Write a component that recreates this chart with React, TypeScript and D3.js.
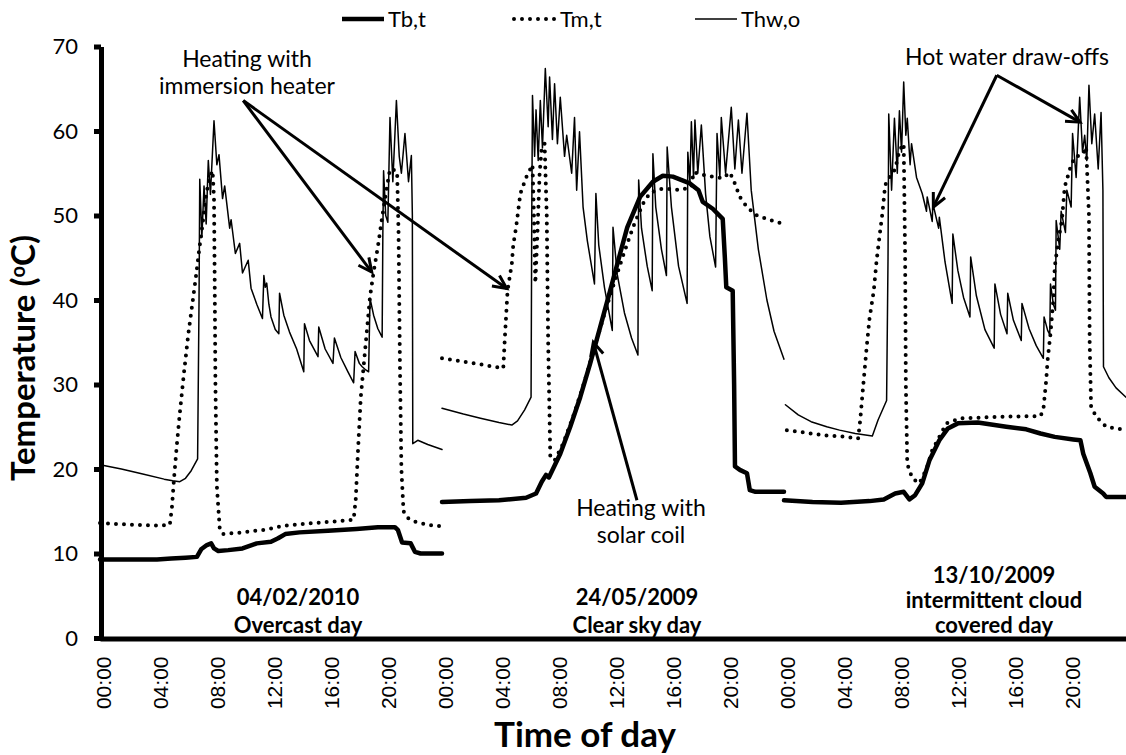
import React, { useEffect, useRef } from "react";
import * as d3 from "d3";

type Pt = [number, number];

// [hour, °C]; the three days sit side by side on a 0-72 h axis
const tbDay1: Pt[] = [
  [0, 9.3], [2, 9.3], [4, 9.3], [5, 9.4], [6, 9.5], [6.8, 9.6], [7.1, 10.5], [7.5, 11.0], [7.8, 11.2],
  [8.0, 10.6], [8.3, 10.3], [9, 10.4], [10, 10.6], [11, 11.2], [12, 11.4], [12.5, 11.8], [13, 12.3],
  [14, 12.5], [16, 12.7], [18, 12.9], [19.5, 13.1], [20.7, 13.1], [20.9, 12.8], [21.2, 11.3],
  [21.8, 11.2], [22.1, 10.2], [22.5, 10.0], [24, 10.0],
];
const tbDay2: Pt[] = [
  [24, 16.1], [26, 16.2], [28, 16.3], [29.9, 16.6], [30.6, 17.1], [31.0, 18.5], [31.3, 19.3], [31.5, 19.0],
  [32.3, 21.8], [33.0, 25], [33.7, 28.5], [34.4, 32.5], [35.1, 36.8], [35.8, 41.1], [36.5, 45.5],
  [37.0, 48.6], [37.9, 52.2], [38.8, 54.0], [39.5, 54.7], [40.2, 54.6], [41.4, 53.8], [42.0, 53.0],
  [42.3, 51.6], [43.0, 50.8], [43.7, 49.6], [43.85, 45], [43.95, 41.5], [44.4, 41.1], [44.5, 30],
  [44.56, 20.3], [44.9, 19.9], [45.4, 19.5], [45.6, 17.5], [46, 17.3], [48, 17.3],
];
const tbDay3: Pt[] = [
  [48, 16.3], [50, 16.1], [52, 16.0], [54, 16.2], [55, 16.4], [55.8, 17.1], [56.4, 17.3], [56.8, 16.4],
  [57.2, 16.9], [57.7, 18.3], [58.2, 21.0], [58.9, 23.4], [59.5, 24.8], [60.2, 25.4], [61.6, 25.5],
  [63.6, 25.0], [65, 24.7], [66.0, 24.2], [67, 23.8], [68.3, 23.5], [68.8, 23.4], [69.0, 21.8],
  [69.5, 19.5], [69.8, 17.9], [70.4, 17.1], [70.6, 16.7], [72, 16.7],
];

const tmDay1: Pt[] = [
  [0, 13.6], [1, 13.5], [2.5, 13.4], [4, 13.3], [4.9, 13.4], [5.05, 15.5], [5.2, 19], [5.4, 23],
  [5.6, 26.6], [5.9, 31.5], [6.2, 36], [6.5, 39.8], [6.75, 43], [6.95, 45.8], [7.2, 49], [7.45, 52.5],
  [7.7, 54.5], [7.9, 55.3], [8.0, 52], [8.05, 42], [8.1, 30], [8.2, 18], [8.4, 13], [8.6, 12.3],
  [10, 12.5], [11.5, 12.8], [13, 13.3], [15, 13.6], [16.5, 13.8], [17.8, 14.0], [17.95, 16.5],
  [18.1, 22], [18.3, 28.5], [18.6, 34], [18.95, 40.4], [19.2, 43.3], [19.5, 46.3], [19.8, 49.8],
  [20.1, 53], [20.35, 55.5], [20.6, 55.4], [20.85, 55.2], [20.95, 48], [21.05, 32], [21.15, 20],
  [21.3, 15], [21.6, 14.2], [22, 13.8], [23, 13.4], [24, 13.2],
];
const tmDay2: Pt[] = [
  [24, 33.1], [25.5, 32.7], [27, 32.3], [28.3, 31.9], [28.4, 35.2], [28.6, 41.1], [28.9, 44.3],
  [29.0, 46.5], [29.2, 48.6], [29.5, 52.6], [29.9, 54.5], [30.35, 56], [30.45, 50], [30.55, 42],
  [30.7, 48], [30.85, 55], [31.0, 58], [31.2, 58.5], [31.35, 50], [31.45, 35], [31.6, 21.4],
  [31.9, 21.0], [32.5, 23.0], [33.2, 26.2], [33.9, 29.8], [34.6, 33.8], [35.3, 37.8], [36.0, 41.6],
  [36.7, 45.2], [37.4, 48.6], [38.1, 51.4], [38.6, 52.7], [39.5, 53.2], [40.7, 53.0], [41.5, 53.4],
  [41.65, 55.1], [42.6, 54.7], [43.7, 54.4], [44.2, 55.1], [44.5, 54], [44.9, 52.2], [45.4, 51.0],
  [46.1, 50.0], [47.5, 49.2], [48, 49.0],
];
const tmDay3: Pt[] = [
  [48.2, 24.6], [50.8, 24.0], [52.4, 23.8], [53.2, 23.6], [53.35, 25.8], [53.55, 29.7], [53.8, 34.4],
  [54.0, 37.8], [54.3, 41.1], [54.5, 44.7], [54.7, 47.5], [54.9, 50.2], [55.1, 53.6], [55.4, 54.5],
  [55.8, 55.5], [56.1, 57.7], [56.4, 58.5], [56.5, 45], [56.55, 30], [56.65, 20.6], [57.0, 18.9],
  [57.5, 18.3], [58.0, 20], [58.4, 22.2], [59.4, 25.4], [60.4, 26.0], [62, 26.1], [63.6, 26.2],
  [66.0, 26.25], [66.2, 27], [66.4, 30.5], [66.5, 32.9], [66.7, 36.0], [66.9, 40], [67.0, 43.9],
  [67.25, 47.1], [67.5, 49.4], [67.7, 53.4], [68.1, 55.7], [68.4, 56.9], [69.0, 57.3], [69.2, 58.1],
  [69.4, 50], [69.45, 35], [69.55, 27.4], [69.9, 26.2], [70.6, 25.0], [72, 24.6],
];

const thwDay1: Pt[] = [
  [0, 20.5], [1.5, 20.0], [3, 19.4], [4.5, 18.8], [5.1, 18.6], [5.6, 18.5], [6.0, 18.9], [6.4, 19.8],
  [6.85, 21.2], [6.95, 40], [7.0, 54.3], [7.15, 47.5], [7.3, 53.5], [7.45, 49], [7.6, 56.5],
  [7.75, 52.5], [8.0, 61.2], [8.2, 56], [8.35, 57.2], [8.6, 52], [8.75, 53.5], [9.1, 48.5], [9.2, 49.5],
  [9.5, 45.5], [9.8, 46.7], [10.0, 43.2], [10.4, 44.7], [10.6, 41.4], [11.0, 39.5], [11.4, 37.8],
  [11.5, 42.9], [11.6, 41.5], [11.7, 42.0], [11.85, 39.5], [12.0, 38], [12.3, 36.5], [12.55, 36.0],
  [12.6, 40.8], [12.9, 38.2], [13.3, 36.2], [13.8, 34.2], [14.3, 31.5], [14.35, 37.2], [14.7, 35.2],
  [15.3, 33.3], [15.35, 36.8], [15.8, 34.2], [16.35, 32.5], [16.45, 35.5], [16.9, 33.2], [17.4, 31.5],
  [17.8, 30.2], [17.9, 33.9], [18.2, 32.5], [18.4, 32.1], [18.6, 31.8], [18.85, 31.5], [18.95, 40.2],
  [19.2, 38.2], [19.5, 36.6], [19.8, 35.6], [19.85, 48], [19.9, 55.3], [20.05, 50], [20.2, 49.2],
  [20.35, 61.6], [20.55, 54], [20.8, 63.6], [21.0, 57], [21.15, 55], [21.4, 59.7], [21.65, 54],
  [21.85, 57.1], [21.92, 50], [21.95, 23.0], [22.3, 23.4], [23, 22.9], [24, 22.3],
];
const thwDay2: Pt[] = [
  [24, 27.2], [25.5, 26.5], [26.7, 26.0], [28, 25.5], [28.9, 25.2], [29.3, 25.7], [29.8, 27.0],
  [30.25, 28.5], [30.3, 50], [30.35, 64.2], [30.5, 57], [30.6, 62.5], [30.75, 56.5], [30.9, 63.6],
  [31.05, 58], [31.25, 67.4], [31.45, 60.5], [31.55, 66.4], [31.75, 59], [31.9, 65.6], [32.1, 58.5],
  [32.3, 64.0], [32.6, 57], [32.75, 59.5], [33.1, 55], [33.3, 61.6], [33.45, 53.0], [33.65, 59.9],
  [33.9, 51.0], [34.2, 47], [34.7, 41.9], [34.8, 52.6], [35.0, 46.5], [35.4, 41.5], [35.95, 36.4],
  [36.0, 48.6], [36.3, 43], [36.8, 38.5], [37.3, 35.5], [37.75, 33.5], [37.8, 54.2], [38.0, 48.5],
  [38.4, 44], [38.75, 41.1], [38.8, 57.3], [39.0, 51], [39.4, 46], [39.75, 42.9], [39.8, 58.1],
  [40.1, 51], [40.6, 44], [41.2, 39.6], [41.25, 57.5], [41.4, 54], [41.5, 61.1], [41.65, 54.5],
  [41.75, 61.3], [41.95, 55], [42.2, 60.7], [42.5, 52.5], [42.8, 47.5], [43.2, 43.9], [43.3, 59.7],
  [43.5, 54.5], [43.6, 61.6], [43.9, 55], [44.3, 62.8], [44.55, 55.5], [44.8, 61.3], [45.05, 55],
  [45.4, 62.1], [45.7, 53], [46.2, 46], [46.8, 40], [47.3, 36.3], [48, 33.0],
];
const thwDay3: Pt[] = [
  [48.1, 27.6], [49.0, 26.4], [49.9, 25.6], [51.0, 25.0], [51.9, 24.6], [53, 24.2], [54.2, 23.9],
  [54.6, 25.8], [55.2, 28.1], [55.3, 45], [55.35, 62.0], [55.55, 53], [55.75, 61.5], [55.95, 55],
  [56.1, 62.4], [56.25, 57.5], [56.4, 65.8], [56.55, 59.5], [56.65, 61.5], [56.85, 56], [56.95, 58.5],
  [57.3, 54.5], [57.7, 52.6], [58.0, 50.5], [58.05, 52.2], [58.4, 49.3], [58.45, 51.4], [58.85, 48.5],
  [58.9, 49.8], [59.3, 44.5], [59.8, 39.6], [59.85, 47.8], [60.2, 43.5], [60.6, 40.3], [61.05, 38.0],
  [61.1, 45.1], [61.5, 40.5], [62.1, 36.5], [62.75, 34.3], [62.8, 41.9], [63.2, 38.3], [63.65, 36.0],
  [63.7, 40.8], [64.1, 37.6], [64.65, 35.2], [64.7, 39.6], [65.2, 36.6], [65.7, 34.6], [66.2, 33.1],
  [66.25, 38.0], [66.5, 36.4], [66.65, 35.9], [66.7, 41.9], [66.9, 39.5], [67.05, 38.8], [67.1, 49.4],
  [67.35, 46], [67.45, 50.5], [67.75, 48], [67.85, 53], [68.15, 51], [68.25, 59.7], [68.5, 54.5],
  [68.75, 64.0], [68.95, 57.5], [69.1, 59.5], [69.25, 56.5], [69.4, 65.4], [69.6, 58.5], [69.8, 62.0],
  [70.05, 55.5], [70.25, 62.2], [70.38, 53], [70.42, 32.1], [70.8, 30.8], [71.3, 29.6], [72, 28.5],
];

const tickHours = [0, 4, 8, 12, 16, 20, 24, 28, 32, 36, 40, 44, 48, 52, 56, 60, 64, 68];
const tickLabels = [
  "00:00", "04:00", "08:00", "12:00", "16:00", "20:00",
  "00:00", "04:00", "08:00", "12:00", "16:00", "20:00",
  "00:00", "04:00", "08:00", "12:00", "16:00", "20:00",
];
const yTicks = [0, 10, 20, 30, 40, 50, 60, 70];
const seriesNames = ["Tb,t", "Tm,t", "Thw,o"];

// annotation arrows: from [hour, °C] to [hour, °C]
const arrows: [Pt, Pt][] = [
  [[10.05, 63.6], [19.07, 43.3]],
  [[10.05, 63.6], [28.54, 41.35]],
  [[62.93, 66.6], [58.48, 51.0]],
  [[62.93, 66.6], [68.77, 61.05]],
  [[37.68, 16.3], [34.62, 35.0]],
];

const W = 1126;
const H = 755;
const FONT = "Lato, 'Open Sans', sans-serif";

const App = () => {
  const ref = useRef<SVGSVGElement>(null);

  useEffect(() => {
    const svg = d3.select(ref.current);
    svg.selectAll("*").remove();

    const x = d3.scaleLinear().domain([0, 72]).range([100, 1126]);
    const y = d3.scaleLinear().domain([0, 70]).range([638, 46.5]);
    const line = d3.line<Pt>().x((d) => x(d[0])).y((d) => y(d[1]));

    const styles = [
      { w: 4.5, dash: null },
      { w: 4, dash: "0 8" },
      { w: 1.5, dash: null },
    ];
    const days = [
      [tbDay1, tbDay2, tbDay3],
      [tmDay1, tmDay2, tmDay3],
      [thwDay1, thwDay2, thwDay3],
    ];

    const plot = svg.append("g");
    days.forEach((segs, i) => {
      plot
        .selectAll(null)
        .data(segs)
        .join("path")
        .attr("d", (d) => line(d))
        .attr("fill", "none")
        .attr("stroke", "#000")
        .attr("stroke-width", styles[i].w)
        .attr("stroke-linejoin", "round")
        .attr("stroke-linecap", "round")
        .attr("stroke-dasharray", styles[i].dash);
    });

    // axes
    const yAxis = svg
      .append("g")
      .attr("transform", `translate(101,0)`)
      .call(d3.axisLeft(y).tickValues(yTicks).tickSize(7).tickSizeOuter(0).tickPadding(16));
    yAxis.select(".domain").attr("stroke-width", 5);
    yAxis.selectAll(".tick line").attr("stroke-width", 5);
    yAxis.selectAll("text").attr("font-family", FONT).attr("font-size", 22).attr("fill", "#000");

    const xAxis = svg
      .append("g")
      .attr("transform", `translate(0,638.5)`)
      .call(
        d3
          .axisBottom(x)
          .tickValues(tickHours)
          .tickSize(0)
          .tickSizeOuter(0)
          .tickFormat((_, i) => tickLabels[i])
      );
    xAxis.select(".domain").attr("stroke-width", 5);
    xAxis
      .selectAll("text")
      .attr("font-family", "'Liberation Sans', Arial, sans-serif")
      .attr("font-size", 21)
      .attr("fill", "#000")
      .attr("transform", "rotate(-90)")
      .attr("text-anchor", "end")
      .attr("x", -18)
      .attr("y", 3)
      .attr("dy", "0.35em");

    svg
      .append("text")
      .attr("x", 585)
      .attr("y", 747)
      .attr("text-anchor", "middle")
      .attr("font-family", FONT)
      .attr("font-weight", "bold")
      .attr("font-size", 35)
      .text("Time of day");

    const yTitle = svg
      .append("text")
      .attr("transform", "translate(35,358) rotate(-90)")
      .attr("text-anchor", "middle")
      .attr("font-family", FONT)
      .attr("font-weight", "bold")
      .attr("font-size", 33);
    yTitle.append("tspan").text("Temperature (");
    yTitle.append("tspan").attr("font-size", 20).attr("dy", -10).text("o");
    yTitle.append("tspan").attr("dy", 10).text("C)");

    // legend
    const legendX = [342, 514, 695];
    const lg = svg.append("g");
    seriesNames.forEach((name, i) => {
      lg.append("line")
        .attr("x1", legendX[i])
        .attr("x2", legendX[i] + 42)
        .attr("y1", 19)
        .attr("y2", 19)
        .attr("stroke", "#000")
        .attr("stroke-width", styles[i].w)
        .attr("stroke-linecap", i === 1 ? "round" : "butt")
        .attr("stroke-dasharray", styles[i].dash);
      lg.append("text")
        .attr("x", legendX[i] + 46)
        .attr("y", 27)
        .attr("font-family", FONT)
        .attr("font-size", 22)
        .text(name);
    });

    // arrows
    const ag = svg.append("g").attr("stroke", "#000").attr("fill", "none");
    arrows.forEach(([a, b]) => {
      const x1 = x(a[0]), y1 = y(a[1]), x2 = x(b[0]), y2 = y(b[1]);
      const ang = Math.atan2(y2 - y1, x2 - x1);
      const len = 15, spread = 0.45;
      ag.append("line").attr("x1", x1).attr("y1", y1).attr("x2", x2).attr("y2", y2).attr("stroke-width", 3);
      ag.append("path")
        .attr(
          "d",
          `M${x2 - len * Math.cos(ang - spread)},${y2 - len * Math.sin(ang - spread)}L${x2},${y2}L${
            x2 - len * Math.cos(ang + spread)
          },${y2 - len * Math.sin(ang + spread)}`
        )
        .attr("stroke-width", 3)
        .attr("stroke-linejoin", "miter");
    });

    // text notes, one text element per block, lines as tspans
    const notes: { x: number; y: number; lines: string[]; gap: number; bold?: boolean }[] = [
      { x: 247, y: 67, lines: ["Heating with", "immersion heater"], gap: 27 },
      { x: 1007, y: 65, lines: ["Hot water draw-offs"], gap: 25 },
      { x: 641, y: 516, lines: ["Heating with", "solar coil"], gap: 27 },
      { x: 298, y: 605, lines: ["04/02/2010", "Overcast day"], gap: 28, bold: true },
      { x: 637, y: 605, lines: ["24/05/2009", "Clear sky day"], gap: 28, bold: true },
      { x: 994, y: 583, lines: ["13/10/2009", "intermittent cloud", "covered day"], gap: 25, bold: true },
    ];
    const ng = svg.append("g");
    notes.forEach((n) => {
      const t = ng
        .append("text")
        .attr("text-anchor", "middle")
        .attr("font-family", FONT)
        .attr("font-size", n.bold ? 22 : 23)
        .attr("font-weight", n.bold ? "bold" : "normal");
      n.lines.forEach((s, i) => {
        t.append("tspan").attr("x", n.x).attr("y", n.y + i * n.gap).text(s);
      });
    });
  }, []);

  return (
    <svg
      ref={ref}
      width={W}
      height={H}
      style={{ position: "absolute", left: 0, top: 0, background: "#fff" }}
    />
  );
};

export default App;
